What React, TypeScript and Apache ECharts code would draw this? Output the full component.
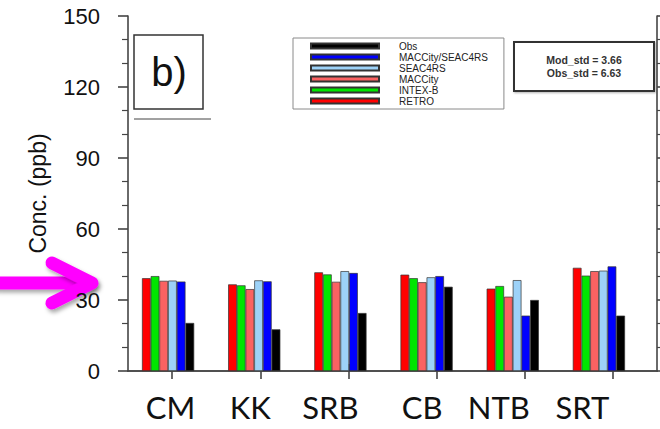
import React, { useEffect, useRef } from "react";
import * as echarts from "echarts";

const categories = ["CM", "KK", "SRB", "CB", "NTB", "SRT"];
const retro = [39.2, 36.6, 41.7, 40.7, 34.8, 43.6];
const intexB = [40.1, 36.2, 40.8, 39.2, 35.9, 40.3];
const maccity = [38.1, 34.6, 37.7, 37.5, 31.4, 42.2];
const seac4rs = [38.2, 38.3, 42.2, 39.6, 38.4, 42.4];
const maccitySeac4rs = [37.8, 37.9, 41.4, 40.1, 23.4, 44.2];
const obs = [20.3, 17.6, 24.5, 35.6, 30.0, 23.4];
const legendOrder = ["Obs", "MACCity/SEAC4RS", "SEAC4RS", "MACCity", "INTEX-B", "RETRO"];
const statLines = ["Mod_std = 3.66", "Obs_std = 6.63"];
const yMin = 0;
const yMax = 150;
const yInterval = 30;

// layout: horizontal nudge of each category label (px)
const labelShift = [2.5, -4, -10, -4.5, -14, -16.5];

const seriesDefs = [
  { name: "RETRO", data: retro, color: "#ff0000" },
  { name: "INTEX-B", data: intexB, color: "#00e600" },
  { name: "MACCity", data: maccity, color: "#fa6262" },
  { name: "SEAC4RS", data: seac4rs, color: "#9dd2f8" },
  { name: "MACCity/SEAC4RS", data: maccitySeac4rs, color: "#0000ff" },
  { name: "Obs", data: obs, color: "#000000" },
];

const AX = "#454545";
const shadow = {
  shadowBlur: 4,
  shadowColor: "rgba(0,0,0,0.35)",
  shadowOffsetX: 2,
  shadowOffsetY: 3,
};

export default function App() {
  const ref = useRef<HTMLDivElement>(null);
  useEffect(() => {
    if (!ref.current) return;
    const chart = echarts.init(ref.current, undefined, { renderer: "svg" });
    const rich: Record<string, any> = {};
    labelShift.forEach((d, i) => {
      rich["l" + i] = {
        fontSize: 31,
        fontFamily: "Lato",
        color: "#111",
        padding: d >= 0 ? [0, 0, 0, 2 * d] : [0, -2 * d, 0, 0],
      };
    });
    const axisLine = { show: true, lineStyle: { color: AX, width: 1.6 } };
    chart.setOption({
      animation: false,
      backgroundColor: "#ffffff",
      grid: [
        { left: 128, right: 3, top: 16, bottom: 58 },
        { left: 125, right: 18, top: 16, bottom: 58 },
      ],
      legend: {
        data: legendOrder,
        orient: "vertical",
        left: 293,
        top: 38,
        itemWidth: 68,
        itemHeight: 5,
        itemGap: 1,
        icon: "rect",
        borderColor: "#8a8a8a",
        borderWidth: 1,
        padding: [3, 16, 3, 17],
        textStyle: {
          fontFamily: "Liberation Sans",
          fontSize: 10,
          lineHeight: 10,
          color: "#222",
          padding: [0, 0, 0, 15],
        },
      },
      xAxis: [
        {
          type: "category",
          gridIndex: 0,
          data: categories,
          position: "bottom",
          axisLine,
          axisTick: { show: true, alignWithLabel: true, length: 8, lineStyle: { color: AX, width: 1.6 } },
          axisLabel: { show: false },
        },
        {
          type: "category",
          gridIndex: 0,
          data: categories,
          position: "top",
          axisLine,
          axisTick: { show: true, alignWithLabel: true, length: 7, lineStyle: { color: AX, width: 1.6 } },
          axisLabel: { show: false },
        },
        {
          type: "category",
          gridIndex: 1,
          data: categories,
          position: "bottom",
          axisLine: { show: false },
          axisTick: { show: false },
          axisLabel: {
            show: true,
            margin: 20,
            formatter: (v: string) => {
              const i = categories.indexOf(v);
              return "{l" + i + "|" + v + "}";
            },
            rich,
          },
        },
      ],
      yAxis: [
        {
          type: "value",
          gridIndex: 0,
          min: yMin,
          max: yMax,
          interval: yInterval,
          position: "left",
          name: "Conc. (ppb)",
          nameLocation: "middle",
          nameGap: 79,
          nameTextStyle: { fontFamily: "Liberation Sans", fontSize: 23, color: "#111" },
          axisLine,
          axisTick: { show: true, length: 10, lineStyle: { color: AX, width: 1.6 } },
          minorTick: { show: true, splitNumber: 3, length: 6, lineStyle: { color: AX, width: 1.2 } },
          axisLabel: { margin: 28, fontFamily: "Liberation Sans", fontSize: 22, color: "#111" },
          splitLine: { show: false },
        },
        {
          type: "value",
          gridIndex: 0,
          min: yMin,
          max: yMax,
          interval: yInterval,
          position: "right",
          axisLine,
          axisTick: { show: true, length: 8, lineStyle: { color: AX, width: 1.6 } },
          minorTick: { show: true, splitNumber: 3, length: 5, lineStyle: { color: AX, width: 1.2 } },
          axisLabel: { show: false },
          splitLine: { show: false },
        },
        {
          type: "value",
          gridIndex: 1,
          min: yMin,
          max: yMax,
          interval: yInterval,
          show: false,
          splitLine: { show: false },
        },
      ],
      series: seriesDefs.map((s) => ({
        type: "bar",
        name: s.name,
        data: s.data,
        xAxisIndex: 2,
        yAxisIndex: 2,
        barWidth: 8.7,
        barGap: "0%",
        itemStyle: { color: s.color, borderColor: "#333", borderWidth: 0.7 },
      })),
      graphic: [
        {
          type: "rect",
          shape: { x: -10, y: 276.5, width: 106, height: 13, r: 6.5 },
          style: { fill: "#ff00ff", ...shadow },
        },
        {
          type: "polyline",
          shape: { points: [[52, 263], [92, 283], [52, 303]] },
          style: {
            stroke: "#ff00ff",
            fill: null,
            lineWidth: 13,
            lineCap: "round",
            lineJoin: "round",
            ...shadow,
          },
        },
        {
          type: "rect",
          shape: { x: 134, y: 35, width: 69, height: 74 },
          style: { fill: "#fff", stroke: "#333", lineWidth: 1.5 },
        },
        {
          type: "text",
          x: 169,
          y: 72,
          style: {
            text: "b)",
            fontFamily: "Liberation Sans",
            fontSize: 40,
            fill: "#111",
            align: "center",
            verticalAlign: "middle",
          },
        },
        {
          type: "line",
          shape: { x1: 134, y1: 119, x2: 211, y2: 119 },
          style: { stroke: "#444", lineWidth: 1 },
        },
        {
          type: "rect",
          shape: { x: 514, y: 42, width: 140, height: 49 },
          style: {
            fill: "#fff",
            stroke: "#333",
            lineWidth: 2,
            shadowBlur: 2,
            shadowColor: "rgba(0,0,0,0.3)",
            shadowOffsetX: 1,
            shadowOffsetY: 1,
          },
        },
        {
          type: "text",
          x: 584,
          y: 60,
          style: {
            text: statLines[0],
            fontFamily: "Liberation Sans",
            fontSize: 10.5,
            fontWeight: "bold",
            fill: "#333",
            align: "center",
            verticalAlign: "middle",
          },
        },
        {
          type: "text",
          x: 584,
          y: 73,
          style: {
            text: statLines[1],
            fontFamily: "Liberation Sans",
            fontSize: 10.5,
            fontWeight: "bold",
            fill: "#333",
            align: "center",
            verticalAlign: "middle",
          },
        },
      ],
    });
    return () => chart.dispose();
  }, []);
  return (
    <div
      ref={ref}
      style={{ position: "fixed", left: 0, top: 0, width: 660, height: 429, background: "#fff" }}
    />
  );
}
